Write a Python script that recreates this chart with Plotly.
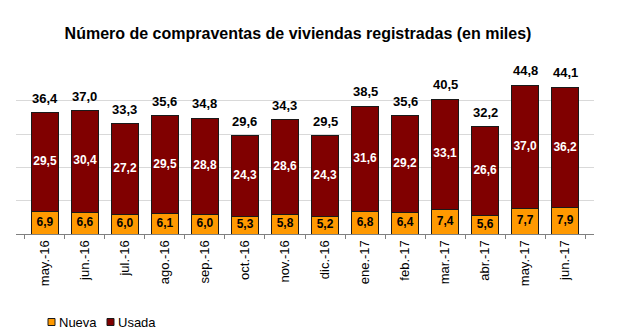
import plotly.graph_objects as go

categories = ["may.-16", "jun.-16", "jul.-16", "ago.-16", "sep.-16", "oct.-16", "nov.-16",
              "dic.-16", "ene.-17", "feb.-17", "mar.-17", "abr.-17", "may.-17", "jun.-17"]
nueva = [6.9, 6.6, 6.0, 6.1, 6.0, 5.3, 5.8, 5.2, 6.8, 6.4, 7.4, 5.6, 7.7, 7.9]
usada = [29.5, 30.4, 27.2, 29.5, 28.8, 24.3, 28.6, 24.3, 31.6, 29.2, 33.1, 26.6, 37.0, 36.2]
totales = [36.4, 37.0, 33.3, 35.6, 34.8, 29.6, 34.3, 29.5, 38.5, 35.6, 40.5, 32.2, 44.8, 44.1]

ORANGE = "#FF9900"
DARKRED = "#800000"
FONT = "Liberation Sans, Arial, sans-serif"

def fmt(v):
    return "<b>" + f"{v:.1f}".replace(".", ",") + "</b>"

fig = go.Figure()
fig.add_trace(go.Bar(x=categories, y=nueva, name="Nueva", marker=dict(color=ORANGE, line=dict(color="#1a1a1a", width=1)),
                     hoverinfo="skip"))
fig.add_trace(go.Bar(x=categories, y=usada, name="Usada", marker=dict(color=DARKRED, line=dict(color="#1a1a1a", width=1)),
                     hoverinfo="skip"))

# labels
fig.add_trace(go.Scatter(x=categories, y=[v / 2 for v in nueva], mode="text", text=[fmt(v) for v in nueva],
                         textposition="middle center", textfont=dict(family=FONT, size=12, color="black"),
                         showlegend=False, hoverinfo="skip", cliponaxis=False))
fig.add_trace(go.Scatter(x=categories, y=[n + u / 2 for n, u in zip(nueva, usada)], mode="text",
                         text=[fmt(v) for v in usada], textposition="middle center",
                         textfont=dict(family=FONT, size=12, color="white"),
                         showlegend=False, hoverinfo="skip", cliponaxis=False))
for c, n, u, t in zip(categories, nueva, usada, totales):
    fig.add_annotation(x=c, y=n + u, text=fmt(t), showarrow=False, xanchor="center", yanchor="bottom",
                       yshift=5, font=dict(family=FONT, size=13, color="black"))

fig.update_layout(
    barmode="stack",
    bargap=0.32,
    width=620, height=333,
    margin=dict(l=16, r=26, t=68, b=99),
    paper_bgcolor="white", plot_bgcolor="white",
    font=dict(family=FONT, color="black"),
    showlegend=False,
    title=dict(text="<b>Número de compraventas de viviendas registradas (en miles)</b>",
               x=298 / 620, xanchor="center", y=1 - 33 / 333, yanchor="middle",
               font=dict(family=FONT, size=16, color="black")),
    xaxis=dict(type="category", tickangle=-90, tickson="boundaries", ticks="outside", ticklen=4,
               tickcolor="#808080", showline=True, linecolor="#808080", linewidth=1,
               tickfont=dict(family=FONT, size=13, color="black"), showgrid=False),
    yaxis=dict(range=[0, 49.9], dtick=10, showgrid=True, gridcolor="#d9d9d9", gridwidth=1,
               showticklabels=False, zeroline=False, showline=False, ticks=""),
)

# legend drawn as shapes + text
legend_items = [("Nueva", ORANGE, 48, 56.5), ("Usada", DARKRED, 107, 115.5)]
plot_w, plot_h = 578.0, 166.0
for name, color, sx, tx in legend_items:
    fig.add_shape(type="rect", xref="paper", yref="paper",
                  x0=(sx - 16) / plot_w, x1=(sx + 7 - 16) / plot_w,
                  y0=(234 - 318.5) / plot_h, y1=(234 - 325.5) / plot_h,
                  fillcolor=color, line=dict(color="#1a1a1a", width=1))
    fig.add_annotation(text=name, xref="paper", yref="paper", x=(tx - 16) / plot_w, y=(234 - 322) / plot_h,
                       xanchor="left", yanchor="middle", showarrow=False,
                       font=dict(family=FONT, size=13, color="black"))

fig.write_html("out.html")
